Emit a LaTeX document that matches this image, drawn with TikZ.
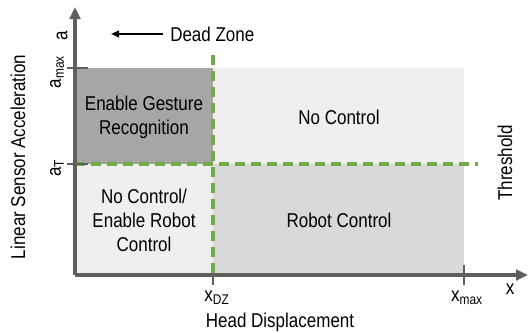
\documentclass[tikz,border=0pt]{standalone}
\usepackage{fontspec}
\setmainfont{Liberation Sans}[FakeStretch=0.85]
\usetikzlibrary{arrows.meta}
\definecolor{axisgray}{HTML}{5F5F5F}
\definecolor{dzgreen}{HTML}{70AD47}
\definecolor{darkreg}{HTML}{A6A6A6}
\definecolor{lightreg}{HTML}{EFEFEF}
\definecolor{midreg}{HTML}{D9D9D9}
\begin{document}
\begin{tikzpicture}[x=0.75pt,y=-0.75pt,
  lbl/.style={font=\fontsize{15pt}{18pt}\selectfont, inner sep=0pt},
  reglbl/.style={lbl, align=center},
  axisline/.style={draw=axisgray, line width=2.4pt},
  tickline/.style={draw=axisgray, line width=2.1pt},
  greendash/.style={draw=dzgreen, line width=2.5pt, dash pattern=on 7.5pt off 4.5pt}]
\useasboundingbox (0,0) rectangle (528,332);
% regions
\fill[darkreg] (75,68) rectangle (213,164);
\fill[lightreg] (213,68) rectangle (464,164);
\fill[lightreg] (75,164) rectangle (213,275);
\fill[midreg] (213,164) rectangle (464,275);
% coordinates
\coordinate (o) at (75,275);
\coordinate (ytop) at (75,7);
\coordinate (xend) at (528,275);
\coordinate (vtop) at (213,55);
\coordinate (vbot) at (213,275);
\coordinate (hleft) at (75,164);
\coordinate (hright) at (478,164);
% green dashed lines
\draw[greendash] (vtop) -- (vbot);
\draw[greendash] (hleft) -- (hright);
% axes
\draw[axisline, -{Triangle[length=9pt,width=8pt]}] (o) -- (ytop);
\draw[axisline, -{Triangle[length=9pt,width=8pt]}] (o) -- (xend);
% ticks
\coordinate (amaxL) at (67,68); \coordinate (amaxR) at (88,68);
\coordinate (atL) at (67,164); \coordinate (atR) at (88,164);
\coordinate (dzT) at (213,275); \coordinate (dzB) at (213,285);
\coordinate (xmT) at (464,265); \coordinate (xmB) at (464,285);
\draw[tickline] (amaxL) -- (amaxR);
\draw[tickline] (atL) -- (atR);
\draw[tickline] (dzT) -- (dzB);
\draw[tickline] (xmT) -- (xmB);
% region labels
\node[reglbl] (egr) at (144,117) {Enable Gesture\\Recognition};
\node[reglbl] (nc) at (339,117) {No Control};
\node[reglbl] (ncerc) at (144,220) {No Control/\\Enable Robot\\Control};
\node[reglbl] (rc) at (339,220) {Robot Control};
% axis labels
\node[lbl, rotate=90] (alab) at (62,36) {a};
\node[lbl, rotate=90] (amax) at (57,72) {a\textsubscript{max}};
\node[lbl, rotate=90] (aT) at (57,168) {a\textsubscript{T}};
\node[lbl, rotate=90] (ylab) at (18,157) {Linear Sensor Acceleration};
\node[lbl, rotate=90] (thr) at (505,163) {Threshold};
\node[lbl] (xdz) at (217,298) {x\textsubscript{DZ}};
\node[lbl] (xmax) at (467,298) {x\textsubscript{max}};
\node[lbl] (xlab) at (510,289) {x};
\node[lbl] (hd) at (280,322) {Head Displacement};
\node[lbl, anchor=west] (dz) at (170,34) {Dead Zone};
\coordinate (dzarrow) at (111,34);
\draw[line width=1.3pt, -{Triangle[length=6pt,width=5pt]}] ([xshift=-5.5pt]dz.west) -- (dzarrow);
\end{tikzpicture}
\end{document}
